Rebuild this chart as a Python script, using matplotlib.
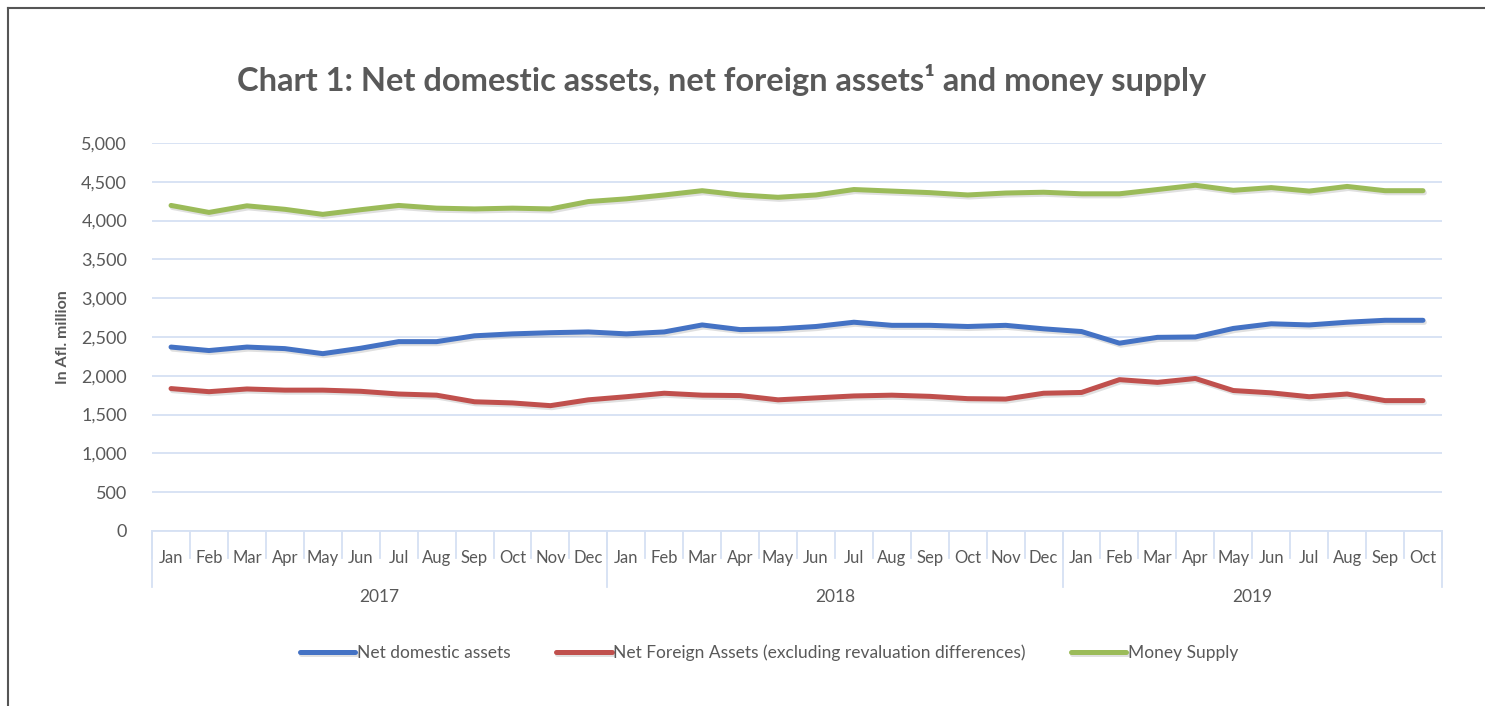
import matplotlib.pyplot as plt
import matplotlib.patheffects as pe
from matplotlib.lines import Line2D
from matplotlib.ticker import FuncFormatter, MultipleLocator

months = ['Jan', 'Feb', 'Mar', 'Apr', 'May', 'Jun', 'Jul', 'Aug', 'Sep', 'Oct', 'Nov', 'Dec',
          'Jan', 'Feb', 'Mar', 'Apr', 'May', 'Jun', 'Jul', 'Aug', 'Sep', 'Oct', 'Nov', 'Dec',
          'Jan', 'Feb', 'Mar', 'Apr', 'May', 'Jun', 'Jul', 'Aug', 'Sep', 'Oct']
years = ['2017', '2018', '2019']
months_per_year = [12, 12, 10]

net_domestic = [2370, 2325, 2370, 2350, 2285, 2355, 2440, 2440, 2515, 2540, 2555, 2565,
                2540, 2565, 2655, 2595, 2605, 2635, 2690, 2650, 2650, 2635, 2650, 2605,
                2570, 2420, 2495, 2500, 2610, 2670, 2655, 2690, 2715, 2715]
net_foreign = [1835, 1795, 1830, 1815, 1815, 1800, 1765, 1750, 1665, 1650, 1615, 1690,
               1730, 1775, 1750, 1745, 1690, 1715, 1740, 1750, 1735, 1705, 1700, 1775,
               1785, 1950, 1915, 1965, 1810, 1780, 1730, 1765, 1680, 1680]
money_supply = [4195, 4105, 4190, 4145, 4080, 4140, 4195, 4160, 4150, 4160, 4150, 4245,
                4280, 4330, 4385, 4330, 4300, 4330, 4400, 4380, 4360, 4330, 4355, 4365,
                4345, 4345, 4400, 4455, 4390, 4425, 4380, 4440, 4385, 4385]

series = [
    ('Net domestic assets', net_domestic, '#4472C4'),
    ('Net Foreign Assets (excluding revaluation differences)', net_foreign, '#C0504D'),
    ('Money Supply', money_supply, '#9BBB59'),
]

grey = '#595959'
grid_col = '#D6E1F3'
plt.rcParams['font.family'] = ['Lato', 'DejaVu Sans']

fig = plt.figure(figsize=(14.85, 7.06), dpi=100)
ax = fig.add_axes([0.1024, 0.2479, 0.8686, 0.5496])

x = list(range(len(months)))
for name, vals, col in series:
    ax.plot(x, vals, color=col, lw=3.6, label=name, solid_capstyle='round',
            path_effects=[pe.SimpleLineShadow(offset=(1, -1.5), alpha=0.12, shadow_color='k'),
                          pe.Normal()])

ax.set_xlim(-0.5, len(months) - 0.5)
ax.set_ylim(0, 5000)
ax.yaxis.set_major_locator(MultipleLocator(500))
ax.yaxis.set_major_formatter(FuncFormatter(lambda v, p: f'{int(v):,}'))
ax.grid(axis='y', color=grid_col, lw=1.3)
ax.set_axisbelow(True)
for s in ['top', 'right', 'left']:
    ax.spines[s].set_visible(False)
ax.spines['bottom'].set_color(grid_col)
ax.spines['bottom'].set_linewidth(1.3)
ax.tick_params(axis='y', length=0, labelsize=13, labelcolor=grey, pad=18)
ax.set_ylabel('In Afl. million', fontsize=11.5, fontweight='bold', color=grey, labelpad=8)

# two-level category axis
ax.set_xticks(x)
ax.set_xticklabels(months)
ax.tick_params(axis='x', length=0, labelsize=12, labelcolor=grey, pad=14)
trans = ax.get_xaxis_transform()
for i in range(len(months) + 1):
    ax.plot([i - 0.5, i - 0.5], [0, -0.07], transform=trans, color=grid_col, lw=1.3, clip_on=False)
start = 0
for yr, n in zip(years, months_per_year):
    ax.plot([start - 0.5, start - 0.5], [0, -0.145], transform=trans, color=grid_col, lw=1.3, clip_on=False)
    ax.text(start + n / 2 - 0.5, -0.17, yr, transform=trans, ha='center', va='center',
            fontsize=12.5, color=grey)
    start += n
ax.plot([start - 0.5, start - 0.5], [0, -0.145], transform=trans, color=grid_col, lw=1.3, clip_on=False)

fig.text(0.486, 0.887, 'Chart 1: Net domestic assets, net foreign assets\u00b9 and money supply',
         ha='center', va='center', fontsize=23.5, fontweight='bold', color=grey)

fig.legend(loc='center', bbox_to_anchor=(0.518, 0.075), ncol=3, frameon=False,
           fontsize=12.5, handlelength=3.2, handletextpad=0.1, columnspacing=2.6,
           labelcolor=grey)

# outer frame (left and top edges)
fig.add_artist(Line2D([0.0057, 0.0057], [0, 0.9887], color='#555555', lw=1.5))
fig.add_artist(Line2D([0.0057, 1.0], [0.9887, 0.9887], color='#555555', lw=1.5))

fig.savefig('out.png', dpi=100)
